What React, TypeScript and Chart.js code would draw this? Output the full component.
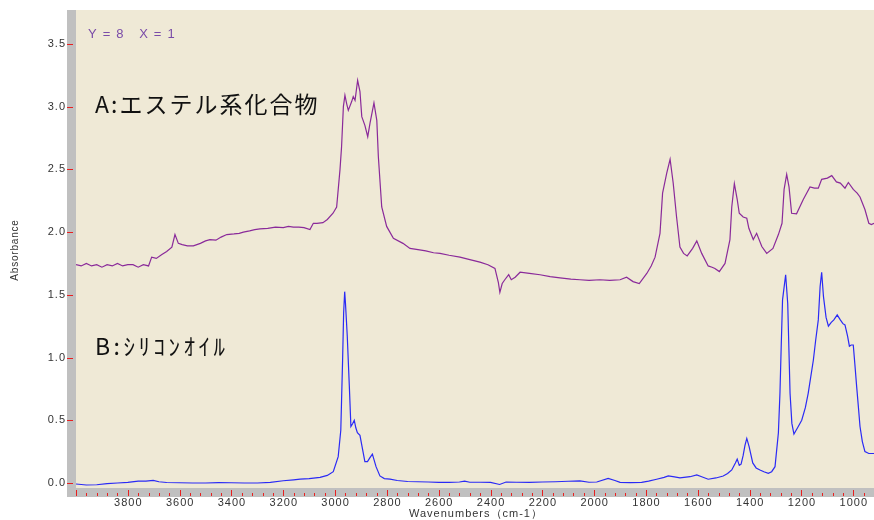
import React, { useEffect, useRef } from "react";
import { Chart, registerables } from "chart.js";

Chart.register(...registerables);

// Spectrum A: ester compound
const wnA = [4000,3980,3960,3940,3920,3900,3880,3860,3840,3820,3800,3780,3760,3740,3720,3708,3690,3670,3650,3630,3618,3605,3590,3570,3547,3520,3500,3483,3460,3440,3418,3390,3370,3354,3330,3310,3290,3260,3230,3200,3180,3161,3140,3120,3097,3084,3070,3047,3030,3008,2994,2981,2975,2968,2962,2955,2949,2936,2930,2923,2913,2904,2897,2885,2874,2865,2850,2839,2833,2820,2801,2775,2738,2711,2680,2650,2620,2595,2560,2518,2480,2441,2410,2383,2370,2364,2355,2345,2330,2320,2305,2286,2250,2209,2170,2132,2090,2055,2020,1978,1940,1900,1875,1850,1826,1797,1780,1765,1746,1736,1720,1707,1695,1682,1669,1655,1641,1620,1604,1585,1560,1545,1534,1517,1495,1476,1469,1459,1448,1440,1425,1411,1403,1386,1373,1353,1334,1310,1289,1275,1267,1257,1248,1238,1219,1193,1167,1150,1135,1122,1100,1083,1065,1050,1032,1019,1000,985,974,955,940,930,920];
const absA = [1.74,1.73,1.75,1.73,1.74,1.72,1.74,1.73,1.75,1.73,1.74,1.74,1.72,1.74,1.73,1.80,1.79,1.82,1.845,1.88,1.98,1.91,1.90,1.89,1.89,1.91,1.93,1.94,1.935,1.96,1.98,1.985,1.99,2.00,2.01,2.02,2.025,2.03,2.04,2.035,2.045,2.04,2.04,2.035,2.02,2.07,2.07,2.075,2.10,2.15,2.20,2.50,2.68,3.00,3.09,3.02,2.97,3.04,3.08,3.05,3.21,3.12,2.92,2.85,2.76,2.87,3.03,2.89,2.60,2.20,2.045,1.95,1.91,1.87,1.86,1.85,1.835,1.83,1.815,1.80,1.78,1.76,1.74,1.71,1.60,1.52,1.59,1.62,1.66,1.62,1.64,1.68,1.67,1.66,1.645,1.635,1.625,1.62,1.615,1.62,1.615,1.62,1.64,1.605,1.59,1.67,1.73,1.80,1.99,2.31,2.47,2.58,2.39,2.12,1.88,1.83,1.81,1.87,1.93,1.83,1.73,1.72,1.71,1.685,1.75,1.94,2.20,2.385,2.26,2.15,2.12,2.11,2.03,1.94,1.99,1.885,1.83,1.87,1.98,2.07,2.34,2.46,2.36,2.15,2.145,2.26,2.36,2.35,2.35,2.42,2.43,2.45,2.40,2.39,2.35,2.395,2.34,2.31,2.28,2.18,2.07,2.06,2.07];

// Spectrum B: silicone oil
const wnB = [4000,3960,3920,3880,3840,3800,3760,3730,3702,3680,3650,3600,3550,3500,3450,3400,3350,3300,3250,3200,3160,3135,3100,3058,3030,3007,2988,2978,2975,2971,2967,2963,2960,2953,2945,2939,2933,2926,2920,2914,2904,2895,2885,2875,2866,2856,2849,2842,2827,2810,2788,2760,2720,2680,2640,2600,2560,2520,2500,2480,2440,2400,2365,2340,2300,2250,2200,2150,2100,2055,2020,1990,1946,1920,1900,1860,1817,1790,1759,1730,1714,1690,1669,1630,1604,1585,1560,1530,1502,1485,1469,1455,1448,1440,1433,1425,1418,1411,1402,1388,1375,1360,1345,1328,1315,1302,1289,1283,1278,1273,1261,1253,1244,1237,1229,1215,1199,1185,1174,1154,1145,1135,1128,1122,1115,1105,1096,1085,1075,1062,1050,1040,1032,1022,1015,1008,1000,994,987,980,974,965,955,940,920];
const absB = [-0.008,-0.016,-0.014,-0.005,0.0,0.005,0.015,0.015,0.02,0.01,0.004,0.002,0.0,0.0,0.003,0.002,0.0,0.0,0.005,0.018,0.025,0.03,0.035,0.045,0.06,0.09,0.21,0.42,0.66,0.98,1.355,1.525,1.435,1.17,0.77,0.45,0.47,0.50,0.44,0.40,0.38,0.28,0.17,0.17,0.20,0.23,0.18,0.13,0.056,0.035,0.03,0.02,0.012,0.01,0.008,0.005,0.005,0.008,0.015,0.006,0.006,0.005,-0.012,0.008,0.006,0.005,0.008,0.01,0.014,0.016,0.006,0.008,0.037,0.02,0.005,0.003,0.005,0.015,0.03,0.045,0.056,0.048,0.04,0.05,0.064,0.05,0.03,0.04,0.056,0.075,0.104,0.16,0.19,0.14,0.15,0.22,0.30,0.355,0.29,0.16,0.12,0.104,0.09,0.077,0.09,0.13,0.40,0.715,1.10,1.46,1.66,1.43,0.715,0.475,0.39,0.44,0.50,0.60,0.715,0.98,1.14,1.30,1.565,1.68,1.485,1.32,1.25,1.28,1.30,1.34,1.30,1.27,1.26,1.17,1.09,1.10,1.10,0.95,0.77,0.60,0.45,0.33,0.25,0.235,0.235];

const xTickLabels = [3800,3600,3400,3200,3000,2800,2600,2400,2200,2000,1800,1600,1400,1200,1000];
const yTickLabels = [0.0,0.5,1.0,1.5,2.0,2.5,3.0,3.5];
const xMinorStep = 40;
const xMin = 920;
const xMax = 4000;
const yMin = -0.04;
const yMax = 3.77;

const labelA = "A:エステル系化合物";
const labelB = "B:ｼﾘｺﾝｵｲﾙ";
const infoText = "Y = 8   X = 1";
const xTitle = "Wavenumbers（cm-1）";
const yTitle = "Absorbance";

const framePlugin = {
  id: "frame",
  beforeDraw(chart: any) {
    const { ctx, chartArea } = chart;
    const { left, top, right, bottom } = chartArea;
    ctx.save();
    ctx.fillStyle = "#EFE9D6";
    ctx.fillRect(left, top, right - left, bottom - top);
    ctx.fillStyle = "#C0C0C0";
    ctx.fillRect(left - 9, top, 9, bottom - top + 9);
    ctx.fillRect(left - 9, bottom, right - left + 9, 9);
    ctx.restore();
  },
  afterDatasetsDraw(chart: any) {
    const { ctx, chartArea, scales } = chart;
    const { left, bottom } = chartArea;
    const xs = scales.x;
    const ys = scales.y;
    ctx.save();
    ctx.strokeStyle = "#E82020";
    ctx.lineWidth = 1;
    for (let v = xMax; v >= xMin; v -= xMinorStep) {
      const px = Math.round(xs.getPixelForValue(v)) + 0.5;
      const major = v % 200 === 0;
      ctx.beginPath();
      ctx.moveTo(px, bottom + (major ? 2 : 5));
      ctx.lineTo(px, bottom + 8);
      ctx.stroke();
    }
    for (const v of yTickLabels) {
      const py = Math.round(ys.getPixelForValue(v)) + 0.5;
      ctx.beginPath();
      ctx.moveTo(left - 9, py);
      ctx.lineTo(left - 3, py);
      ctx.stroke();
    }
    ctx.fillStyle = "#333333";
    ctx.font = "11px 'Liberation Sans', Arial, sans-serif";
    (ctx as any).letterSpacing = "1px";
    ctx.textAlign = "center";
    ctx.textBaseline = "middle";
    for (const v of xTickLabels) {
      ctx.fillText(String(v), xs.getPixelForValue(v) + 0.5, bottom + 15);
    }
    ctx.textAlign = "right";
    for (const v of yTickLabels) {
      ctx.fillText(v.toFixed(1), left - 10, ys.getPixelForValue(v));
    }
    ctx.textAlign = "center";
    ctx.fillText(xTitle, 476, 514);
    ctx.save();
    ctx.translate(15, 250);
    ctx.rotate(-Math.PI / 2);
    ctx.font = "10px 'Liberation Sans', Arial, sans-serif";
    (ctx as any).letterSpacing = "0.8px";
    ctx.fillText(yTitle, 0, 0);
    ctx.restore();
    ctx.textAlign = "left";
    ctx.textBaseline = "alphabetic";
    ctx.fillStyle = "#7A4CA8";
    ctx.font = "13px 'Liberation Sans', Arial, sans-serif";
    (ctx as any).letterSpacing = "1.2px";
    ctx.fillText(infoText, 88, 38);
    ctx.fillStyle = "#111111";
    ctx.font = "23px 'Noto Sans CJK JP', sans-serif";
    (ctx as any).letterSpacing = "2px";
    ctx.fillText(labelA, 95, 113);
    (ctx as any).letterSpacing = "3.5px";
    ctx.fillText(labelB, 95, 355);
    ctx.restore();
  },
};

export default function App() {
  const ref = useRef<HTMLCanvasElement | null>(null);
  useEffect(() => {
    document.body.style.margin = "0";
    if (!ref.current) return;
    const chart = new Chart(ref.current, {
      type: "line",
      data: {
        datasets: [
          {
            label: "A",
            data: wnA.map((x, i) => ({ x, y: absA[i] })),
            borderColor: "#8A2A9A",
            borderWidth: 1.2,
            pointRadius: 0,
            tension: 0,
          },
          {
            label: "B",
            data: wnB.map((x, i) => ({ x, y: absB[i] })),
            borderColor: "#2A2AF5",
            borderWidth: 1.2,
            pointRadius: 0,
            tension: 0,
          },
        ],
      },
      options: {
        animation: false,
        responsive: false,
        layout: { padding: { left: 76, top: 10, right: 0, bottom: 32 } },
        plugins: { legend: { display: false }, tooltip: { enabled: false } },
        scales: {
          x: { type: "linear", reverse: true, min: xMin, max: xMax, display: false },
          y: { type: "linear", min: yMin, max: yMax, display: false },
        },
      },
      plugins: [framePlugin],
    });
    return () => chart.destroy();
  }, []);
  return <canvas ref={ref} width={874} height={520} style={{ display: "block" }} />;
}
